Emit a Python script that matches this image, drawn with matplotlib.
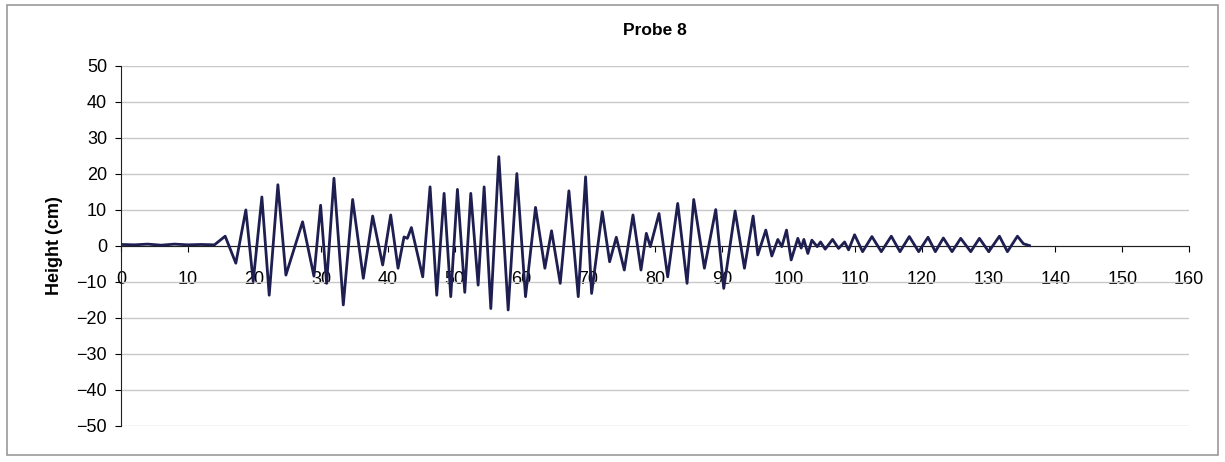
import matplotlib
matplotlib.use("Agg")
import matplotlib.pyplot as plt
from matplotlib.patches import Rectangle

plt.rcParams["font.family"] = ["Liberation Sans", "DejaVu Sans"]

# ─────────────────────────────────────────────
#  Data (time in s, height in cm)
# ─────────────────────────────────────────────
time_s = [
    0, 2, 4, 6, 8, 10, 12, 14,
    15.6, 17.2, 18.7, 19.8, 21.1, 22.2, 23.5, 24.7, 27.2, 28.9, 29.9, 30.8,
    31.9, 33.3, 34.7, 36.3, 37.7, 39.2, 40.4, 41.5, 42.4, 42.9, 43.5, 45.2,
    46.3, 47.3, 48.4, 49.4, 50.4, 51.5, 52.4, 53.5, 54.4, 55.4, 56.6, 58.0,
    59.3, 60.6, 62.1, 63.5, 64.5, 65.8, 67.1, 68.5, 69.6, 70.5, 72.1, 73.2,
    74.2, 75.4, 76.7, 77.9, 78.7, 79.3, 80.6, 81.9, 83.4, 84.8, 85.8, 87.4,
    89.1, 90.3, 92.0, 93.4, 94.7, 95.4, 96.6, 97.5, 98.4, 99.0, 99.7, 100.4,
    101.4, 101.9, 102.3, 102.9, 103.5, 104.3, 104.8, 105.5, 106.6, 107.5,
    108.4, 109.0, 109.9, 111.1, 112.5, 113.9, 115.4, 116.7, 118.1, 119.5,
    120.9, 122.0, 123.2, 124.5, 125.8, 127.3, 128.6, 130.0, 131.6, 132.8,
    134.3, 135.2, 136.1,
]
height_cm = [
    0.3, 0.2, 0.4, 0.1, 0.4, 0.2, 0.3, 0.2,
    2.6, -4.9, 9.9, -10.0, 13.5, -13.8, 16.9, -8.2, 6.6, -8.5, 11.2, -10.5,
    18.7, -16.5, 12.8, -9.1, 8.2, -5.4, 8.5, -6.3, 2.4, 2.0, 5.0, -8.7,
    16.3, -13.8, 14.5, -14.2, 15.6, -13.0, 14.5, -11.0, 16.3, -17.5, 24.7, -17.9,
    20.0, -14.2, 10.6, -6.3, 4.1, -10.5, 15.2, -14.2, 19.1, -13.3, 9.4, -4.5,
    2.3, -6.8, 8.5, -6.8, 3.4, -0.3, 8.9, -8.7, 11.7, -10.5, 12.8, -6.3,
    10.0, -11.9, 9.6, -6.3, 8.2, -2.6, 4.3, -2.9, 1.7, -0.3, 4.3, -4.0,
    2.0, -0.7, 1.7, -2.2, 1.5, -0.3, 1.0, -1.0, 1.7, -0.8,
    1.0, -1.2, 3.0, -1.7, 2.5, -1.7, 2.6, -1.7, 2.5, -1.7,
    2.3, -1.7, 2.1, -1.7, 2.0, -1.7, 2.0, -1.7, 2.6, -1.7,
    2.6, 0.5, 0.0,
]

x_ticks = list(range(0, 161, 10))
y_ticks = list(range(-50, 51, 10))

TITLE = "Probe 8"
Y_LABEL = "Height (cm)"

# ─────────────────────────────────────────────
#  Figure
# ─────────────────────────────────────────────
fig = plt.figure(figsize=(12.25, 4.62), dpi=100, facecolor="white")
ax = fig.add_axes([0.0988, 0.0790, 0.8718, 0.7790])

ax.plot(time_s, height_cm, color="#1e1e50", lw=2.0,
        solid_joinstyle="round", zorder=3)

ax.set_xlim(0, 160)
ax.set_ylim(-50, 50)
ax.set_xticks(x_ticks)
ax.set_yticks(y_ticks)

# Excel-like look: horizontal grid, x axis crossing at zero
ax.grid(True, axis="y", color="#c8c8c8", lw=1.0)
ax.set_axisbelow(True)
for s in ("top", "right"):
    ax.spines[s].set_visible(False)
ax.spines["bottom"].set_position(("data", 0))
ax.spines["bottom"].set_color("#202020")
ax.spines["left"].set_color("#202020")

ax.tick_params(axis="y", direction="out", length=4, labelsize=13, pad=6)
ax.tick_params(axis="x", direction="out", length=4, labelsize=13, pad=14)

ax.set_ylabel(Y_LABEL, fontsize=13, fontweight="bold", labelpad=10)
ax.set_title(TITLE, fontsize=12.5, fontweight="bold", pad=22)

# outer chart frame
fig.patches.append(Rectangle((0.006, 0.015), 0.988, 0.975, transform=fig.transFigure,
                             fill=False, edgecolor="#9a9a9a", lw=1.2))

fig.savefig("out.png", dpi=100)
